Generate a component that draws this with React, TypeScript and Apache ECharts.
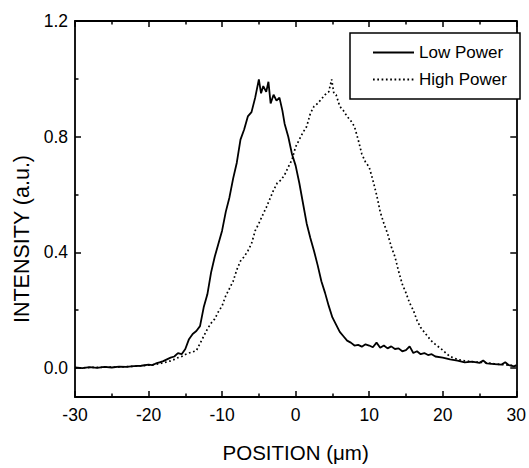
import React, { useEffect, useRef } from "react";
import * as echarts from "echarts";

const FONT = "'Liberation Sans', Arial, sans-serif";

const seriesNames = ["Low Power", "High Power"];

const xTickLabels = [-30, -20, -10, 0, 10, 20, 30];
const yTickLabels = [0.0, 0.4, 0.8, 1.2];
const yMinorTicks = [0.2, 0.6, 1.0];

const lowX = [
  -30, -29, -28, -27, -26, -25, -24, -23, -22, -21, -20, -19.5, -19, -18.5, -18, -17.5, -17, -16.5, -16, -15.5,
  -15, -14.5, -14, -13.5, -13, -12.5, -12, -11.5, -11, -10.5, -10, -9.5, -9, -8.5, -8, -7.5, -7, -6.5, -6, -5.5,
  -5, -4.7, -4.4, -4, -3.7, -3.4, -3, -2.6, -2.2, -1.8, -1.5, -1, -0.5, 0, 0.5, 1, 1.5, 2, 2.5, 3,
  3.5, 4, 4.5, 5, 5.5, 6, 6.5, 7, 7.5, 8, 8.5, 9, 9.5, 10, 10.5, 11, 11.5, 12, 12.5, 13,
  13.5, 14, 14.5, 15, 15.5, 16, 16.5, 17, 17.5, 18, 18.5, 19, 20, 21, 22, 23, 24, 25, 25.5, 26,
  27, 28, 28.5, 29, 29.7, 30,
];
const lowY = [
  0.002, 0.0, 0.003, 0.001, 0.004, 0.002, 0.005, 0.004, 0.007, 0.008, 0.012, 0.01, 0.016, 0.02, 0.024, 0.03, 0.036, 0.04, 0.052, 0.048,
  0.066, 0.1, 0.118, 0.128, 0.145, 0.21, 0.255, 0.33, 0.385, 0.43, 0.475, 0.54, 0.59, 0.655, 0.71, 0.79, 0.825, 0.87, 0.885, 0.935,
  0.998, 0.95, 0.975, 0.955, 0.99, 0.915, 0.945, 0.925, 0.935, 0.89, 0.845, 0.8, 0.74, 0.7, 0.64, 0.57, 0.5, 0.45, 0.405, 0.355,
  0.3, 0.26, 0.215, 0.175, 0.15, 0.125, 0.11, 0.095, 0.088, 0.078, 0.08, 0.074, 0.082, 0.078, 0.072, 0.088, 0.07, 0.078, 0.068, 0.075,
  0.066, 0.068, 0.058, 0.062, 0.075, 0.052, 0.058, 0.048, 0.052, 0.045, 0.048, 0.04, 0.036, 0.03, 0.026, 0.02, 0.022, 0.018, 0.026, 0.016,
  0.014, 0.012, 0.02, 0.01, 0.006, 0.01,
];

const highX = [
  -30, -28, -26, -24, -22, -20, -19, -18, -17, -16.5, -16, -15.5, -15, -14.5, -14, -13.5, -13, -12.5, -12, -11.5,
  -11, -10.5, -10, -9.5, -9, -8.5, -8, -7.5, -7, -6.5, -6, -5.5, -5, -4.5, -4, -3.5, -3, -2.5, -2, -1.5,
  -1, -0.5, 0, 0.5, 1, 1.5, 2, 2.5, 3, 3.5, 4, 4.5, 4.9, 5.2, 5.5, 6, 6.5, 7, 7.5, 8,
  8.5, 9, 9.5, 10, 10.5, 11, 11.5, 12, 12.5, 13, 13.5, 14, 14.5, 15, 15.5, 16, 16.5, 17, 17.5, 18,
  18.5, 19, 19.5, 20, 20.5, 21, 21.5, 22, 23, 24, 25, 26, 27, 28, 29, 30,
];
const highY = [
  0.0, 0.002, 0.003, 0.004, 0.006, 0.01, 0.013, 0.018, 0.025, 0.03, 0.036, 0.04, 0.047, 0.052, 0.056, 0.06, 0.085, 0.11, 0.135, 0.155,
  0.17, 0.195, 0.215, 0.25, 0.275, 0.3, 0.34, 0.37, 0.385, 0.405, 0.43, 0.475, 0.5, 0.528, 0.555, 0.585, 0.615, 0.64, 0.65, 0.668,
  0.695, 0.72, 0.765, 0.79, 0.815, 0.835, 0.88, 0.905, 0.915, 0.93, 0.945, 0.955, 0.998, 0.95, 0.945, 0.905, 0.89, 0.87, 0.855, 0.835,
  0.79, 0.74, 0.712, 0.695, 0.65, 0.6, 0.54, 0.5, 0.465, 0.42, 0.385, 0.335, 0.29, 0.26, 0.225, 0.2, 0.165, 0.14, 0.124, 0.108,
  0.093, 0.082, 0.072, 0.062, 0.05, 0.04, 0.035, 0.03, 0.025, 0.022, 0.02, 0.018, 0.015, 0.012, 0.01, 0.008,
];

const BLACK = "#000";

function zip(xs: number[], ys: number[]) {
  return xs.map((x, i) => [x, ys[i]]);
}

export default function App() {
  const ref = useRef<HTMLDivElement>(null);

  useEffect(() => {
    if (!ref.current) return;
    const chart = echarts.init(ref.current, null, { renderer: "svg" });

    const lineStyle = { color: BLACK, width: 1.8 };
    const tickStyle = { color: BLACK, width: 1.5 };

    const xBase = (pos: "bottom" | "top", labels: boolean) => ({
      type: "value",
      position: pos,
      min: xTickLabels[0],
      max: xTickLabels[xTickLabels.length - 1],
      interval: 10,
      axisLine: { show: true, onZero: false, lineStyle },
      axisTick: { show: true, inside: true, length: 6, lineStyle: tickStyle },
      minorTick: { show: true, splitNumber: 2, length: 3.5, lineStyle: tickStyle },
      axisLabel: {
        show: labels,
        color: BLACK,
        fontFamily: FONT,
        fontSize: 17.5,
        margin: 9,
      },
      splitLine: { show: false },
      minorSplitLine: { show: false },
    });

    const yMajor = (pos: "left" | "right", labels: boolean) => ({
      type: "value",
      position: pos,
      min: -0.1,
      max: 1.2,
      axisLine: { show: true, onZero: false, lineStyle },
      axisTick: { show: true, inside: true, length: 6, lineStyle: tickStyle, customValues: yTickLabels },
      axisLabel: {
        show: labels,
        color: BLACK,
        fontFamily: FONT,
        fontSize: 17.5,
        margin: 7,
        customValues: yTickLabels,
        formatter: (v: number) => v.toFixed(1),
      },
      splitLine: { show: false },
    });

    const yMinor = (pos: "left" | "right") => ({
      type: "value",
      position: pos,
      min: -0.1,
      max: 1.2,
      axisLine: { show: false, onZero: false },
      axisTick: { show: true, inside: true, length: 3.5, lineStyle: tickStyle, customValues: yMinorTicks },
      axisLabel: { show: false },
      splitLine: { show: false },
    });

    const xAxes: any[] = [
      {
        ...xBase("bottom", true),
        name: "POSITION (\u03bcm)",
        nameLocation: "middle",
        nameGap: 45,
        nameTextStyle: { color: BLACK, fontFamily: FONT, fontSize: 20.5 },
      },
      xBase("top", false),
    ];

    const yAxes: any[] = [
      {
        ...yMajor("left", true),
        name: "INTENSITY (a.u.)",
        nameLocation: "middle",
        nameGap: 41,
        nameTextStyle: { color: BLACK, fontFamily: FONT, fontSize: 21.5, padding: [0, 60, 0, 0] },
      },
      yMinor("left"),
      yMajor("right", false),
      yMinor("right"),
    ];

    chart.setOption({
      animation: false,
      backgroundColor: "#fff",
      grid: { left: 75, right: 11, top: 21, bottom: 69, containLabel: false },
      xAxis: xAxes,
      yAxis: yAxes,
      legend: {
        orient: "vertical",
        left: 367,
        top: 39,
        itemWidth: 41,
        itemHeight: 14,
        itemGap: 10,
        itemStyle: { opacity: 0 },
        textStyle: { color: BLACK, fontFamily: FONT, fontSize: 17 },
        data: seriesNames,
      },
      graphic: [
        {
          type: "rect",
          z: 3,
          shape: { x: 350, y: 33, width: 170, height: 66 },
          style: { fill: "#fff", stroke: BLACK, lineWidth: 1.5 },
        },
      ],
      series: [
        {
          name: seriesNames[0],
          type: "line",
          xAxisIndex: 0,
          yAxisIndex: 0,
          data: zip(lowX, lowY),
          showSymbol: false,
          symbol: "none",
          color: BLACK,
          lineStyle: { color: BLACK, width: 1.8 },
        },
        {
          name: seriesNames[1],
          type: "line",
          xAxisIndex: 0,
          yAxisIndex: 0,
          data: zip(highX, highY),
          showSymbol: false,
          symbol: "none",
          color: BLACK,
          lineStyle: { color: BLACK, width: 1.7, type: [1.7, 2.6] },
        },
      ],
    });

    return () => chart.dispose();
  }, []);

  return (
    <div
      ref={ref}
      style={{ position: "fixed", left: 0, top: 0, width: 529, height: 468, background: "#fff" }}
    />
  );
}
